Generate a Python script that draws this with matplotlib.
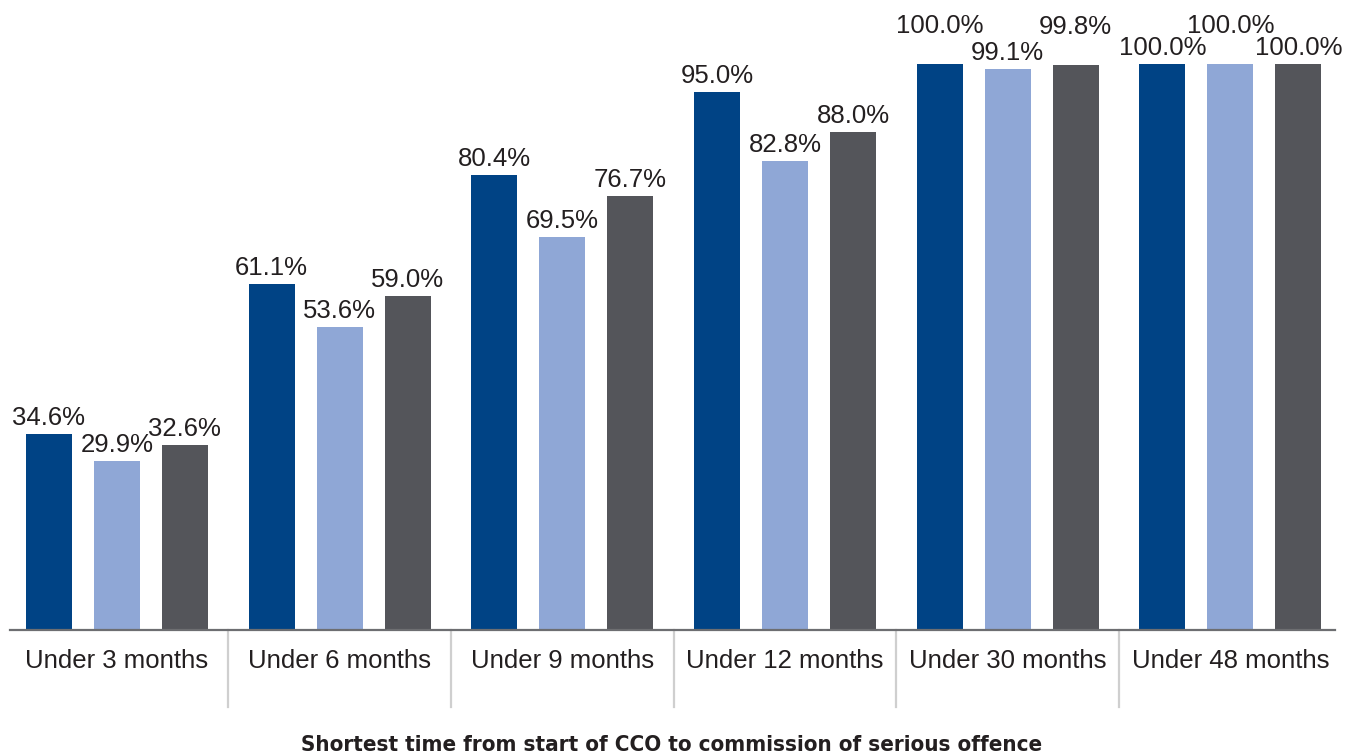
import matplotlib.pyplot as plt
import numpy as np

# --- Data ---
categories = ['Under 3 months', 'Under 6 months', 'Under 9 months',
              'Under 12 months', 'Under 30 months', 'Under 48 months']
series_a = [34.6, 61.1, 80.4, 95.0, 100.0, 100.0]
series_b = [29.9, 53.6, 69.5, 82.8, 99.1, 100.0]
series_c = [32.6, 59.0, 76.7, 88.0, 99.8, 100.0]

colors = ['#004385', '#8fa7d6', '#54555a']
text_color = '#231f20'

plt.rcParams['font.family'] = ['Liberation Sans', 'DejaVu Sans']

fig = plt.figure(figsize=(13.45, 7.54), dpi=100)
# axes spans from the baseline (y=630px) to the top of the canvas
ax = fig.add_axes([10 / 1345, 124 / 754, 1325 / 1345, 630 / 754])

x = np.arange(len(categories))
step = 0.3055
width = 0.2067
all_series = [series_a, series_b, series_c]

# labels that get nudged up so they don't collide with neighbours
raised = {(4, 0), (4, 2), (5, 1)}

for k, (vals, col) in enumerate(zip(all_series, colors)):
    xs = x + (k - 1) * step
    ax.bar(xs, vals, width=width, color=col, zorder=2)
    for i, (xi, v) in enumerate(zip(xs, vals)):
        off = 31 if (i, k) in raised else 9
        ax.annotate(f'{v:.1f}%', (xi, v), xytext=(0, off), textcoords='offset pixels',
                    ha='center', va='baseline', fontsize=18.5, color=text_color,
                    annotation_clip=False)

ax.set_xlim(-0.48, 5.47)
ax.set_ylim(0, 630 / 5.66)

for s in ['top', 'right', 'left']:
    ax.spines[s].set_visible(False)
ax.spines['bottom'].set_color('#6d6e71')
ax.spines['bottom'].set_linewidth(1.6)
ax.set_yticks([])
ax.set_xticks(x)
ax.set_xticklabels(categories, fontsize=18.5, color=text_color)
ax.tick_params(axis='x', length=0, pad=14)

# light separators between category groups
for b in x[:-1] + 0.5:
    ax.plot([b, b], [0, -0.122], transform=ax.get_xaxis_transform(),
            color='#cfcfcf', lw=1.6, clip_on=False)

fig.text(0.499, 9 / 754, 'Shortest time from start of CCO to commission of serious offence',
         ha='center', va='center', fontsize=16, fontweight='bold', fontstretch='condensed',
         family=['DejaVu Sans'], color=text_color)

plt.savefig('out.png', dpi=100)
